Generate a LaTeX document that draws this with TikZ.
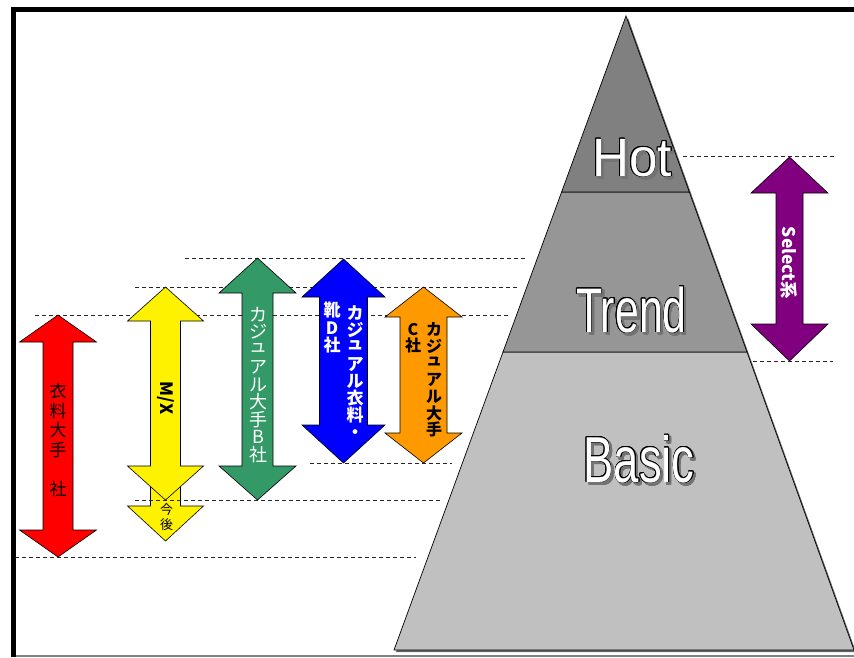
\documentclass[tikz,border=0pt]{standalone}
\usepackage{fontspec}
\usepackage{contour}
\newfontfamily\jp{Noto Sans CJK JP}
\newfontfamily\lat{Liberation Sans}
\contourlength{0.8pt}
% #1 cx, #2 top tip, #3 upper head base, #4 lower head base, #5 bottom tip, #6 half head, #7 half shaft, #8 colour
\newcommand\DArrow[8]{%
  \filldraw[arrowbody, fill=#8] (#1,#2) -- (#1+#6,#3) -- (#1+#7,#3) -- (#1+#7,#4) -- (#1+#6,#4) -- (#1,#5)
    -- (#1-#6,#4) -- (#1-#7,#4) -- (#1-#7,#3) -- (#1-#6,#3) -- cycle;}
\newcommand\smallyu{\raisebox{0.22em}{ュ}}
\definecolor{hotc}{HTML}{808080}
\definecolor{trendc}{HTML}{969696}
\definecolor{basicc}{HTML}{C0C0C0}
\definecolor{greenA}{HTML}{339966}
\definecolor{orangeA}{HTML}{FF9900}
\definecolor{purpleA}{HTML}{800080}
\begin{document}
\begin{tikzpicture}[x=1pt,y=-1pt,
  arrowbody/.style={draw=black, line width=0.6pt},
  dashline/.style={draw=black!85, line width=0.6pt, dash pattern=on 4pt off 3pt},
  layer/.style={draw=black, line width=0.7pt},
  vtxt/.style={align=center, inner sep=0pt},
  bigword/.style={font=\lat, inner sep=0pt, anchor=base}]
\useasboundingbox (0,0) rectangle (854,657);
\fill[white] (0,0) rectangle (854,657);
% frame
\draw[line width=4.5pt] (13.5,657) -- (13.5,9.5) -- (854,9.5);
\draw[gray, line width=1.2pt] (16,656) -- (854,656);

% dashed guide lines
\draw[dashline] (185,258) -- (527,258);
\draw[dashline] (135,287) -- (517,287);
\draw[dashline] (35,315) -- (510,315);
\draw[dashline] (310,463) -- (452,463);
\draw[dashline] (15,557) -- (416,557);
\draw[dashline] (683,156) -- (836,156);
\draw[dashline] (753,361) -- (833,361);

% pyramid shadow
\fill[black!60] (628,18) -- (396,652) -- (856,652) -- cycle;
% pyramid layers
\filldraw[layer, fill=basicc] (503,352) -- (394,650) -- (854,650) -- (747,352) -- cycle;
\filldraw[layer, fill=trendc] (561.6,192) -- (503,352) -- (747,352) -- (689.3,192) -- cycle;
\filldraw[layer, fill=hotc] (626,16) -- (561.6,192) -- (689.3,192) -- cycle;

% pyramid labels (shadow + outlined white)
\node[bigword, font=\lat\fontsize{54}{54}\selectfont, xscale=0.95, text=black!55] at (634.5,178.5) {\contour{black!55}{Hot}};
\node[bigword, font=\lat\fontsize{54}{54}\selectfont, xscale=0.95] (hot) at (632,176) {\color{white}\contour{black}{Hot}};
\node[bigword, font=\lat\fontsize{63}{63}\selectfont, xscale=0.68, text=black!55] at (634,334.5) {\contour{black!55}{Trend}};
\node[bigword, font=\lat\fontsize{63}{63}\selectfont, xscale=0.68] (trend) at (631.5,332) {\color{white}\contour{black}{Trend}};
\node[bigword, font=\lat\fontsize{65}{65}\selectfont, xscale=0.70, text=black!55] at (641.5,484.5) {\contour{black!55}{Basic}};
\node[bigword, font=\lat\fontsize{65}{65}\selectfont, xscale=0.70] (basic) at (639,482) {\color{white}\contour{black}{Basic}};

% red arrow
\DArrow{58}{315}{342}{530}{557}{38.5}{15}{red}
\node[vtxt, font=\jp\fontsize{17}{19.5}\selectfont] (redt) at (58,440.5) {衣\\料\\大\\手\\[20pt]社};

% yellow arrow with extension
\filldraw[arrowbody, fill=yellow] (150.5,470) -- (150.5,506) -- (127.5,506) -- (165.5,541) -- (203.5,506) -- (180.5,506) -- (180.5,470) -- cycle;
\draw[dashline] (135,500.5) -- (440,500.5);
\DArrow{165.5}{287}{321}{466}{500}{38}{15}{yellow}
\node[font=\jp\bfseries\fontsize{17}{17}\selectfont, rotate=-90, inner sep=0pt] (mx) at (166,398) {M/X};
\node[vtxt, font=\jp\fontsize{13}{15}\selectfont] (kongo) at (166.5,517) {今\\後};

% green arrow
\DArrow{257.5}{258}{293}{466}{500}{38.5}{15.5}{greenA}
\node[vtxt, font=\jp\fontsize{18}{17.5}\selectfont, text=white] (greent) at (258,385) {カ\\ジ\\\smallyu\\ア\\ル\\大\\手\\B\\社};

% blue arrow
\DArrow{343.5}{259}{297}{425}{463}{41.5}{24}{blue}
\node[vtxt, font=\jp\bfseries\fontsize{17}{17.1}\selectfont, text=white] (bluet1) at (355,372) {カ\\ジ\\\smallyu\\ア\\ル\\衣\\料\\・};
\node[vtxt, font=\jp\bfseries\fontsize{17}{17.5}\selectfont, text=white] (bluet2) at (332,328) {靴\\D\\社};

% orange arrow
\DArrow{423.5}{287}{317}{433}{463}{38.5}{23.5}{orangeA}
\node[vtxt, font=\jp\bfseries\fontsize{16}{16.7}\selectfont] (oranget1) at (434,380) {カ\\ジ\\\smallyu\\ア\\ル\\大\\手};
\node[vtxt, font=\jp\bfseries\fontsize{16}{15.5}\selectfont] (oranget2) at (413,338) {C\\社};

% purple arrow
\DArrow{789.5}{157}{193}{324}{361}{38.5}{13.5}{purpleA}
\node[font=\jp\bfseries\fontsize{17.5}{17.5}\selectfont, rotate=-90, inner sep=0pt, text=white] (select) at (789.5,263) {Select系};
\end{tikzpicture}
\end{document}
